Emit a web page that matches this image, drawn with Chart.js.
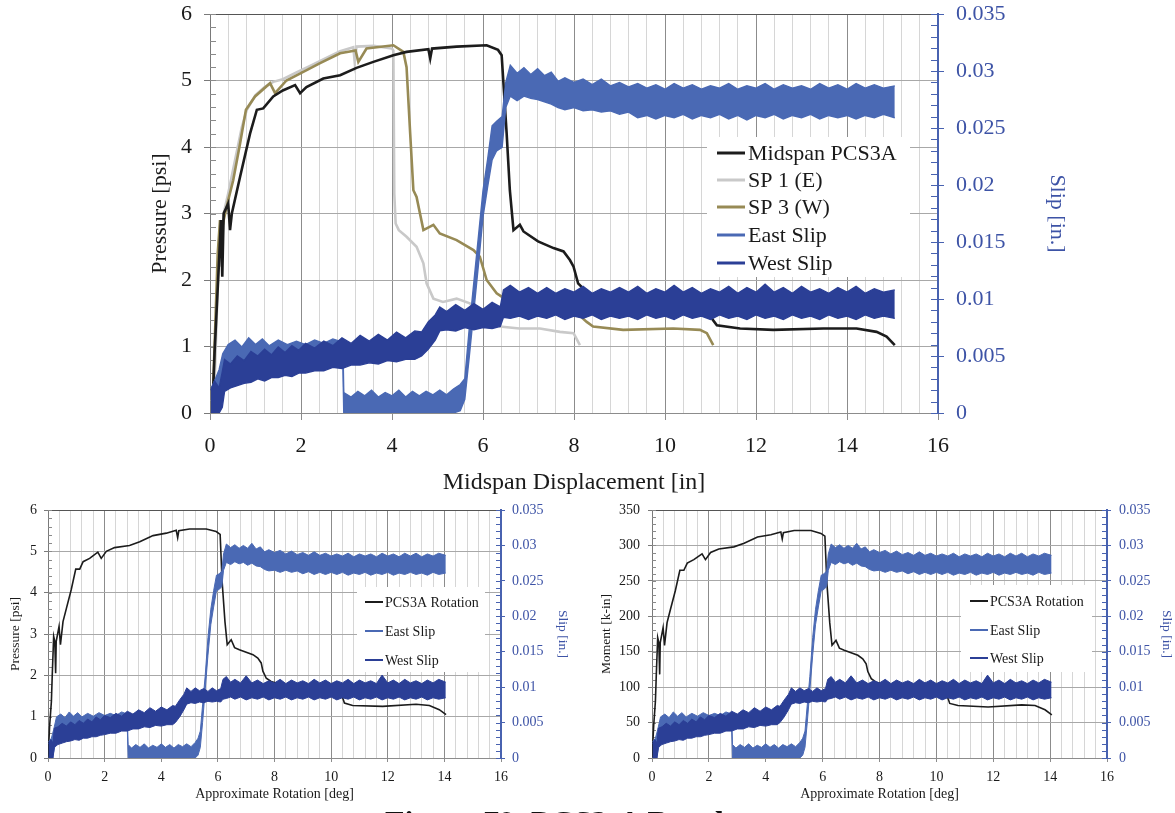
<!DOCTYPE html>
<html>
<head>
<meta charset="utf-8">
<script src="https://cdn.jsdelivr.net/npm/chart.js@4.4.1/dist/chart.umd.min.js"></script>
<style>
  html, body { margin: 0; padding: 0; background: #fff; overflow: hidden; }
  body { width: 1175px; height: 813px; position: relative; }
  canvas { position: absolute; display: block; }
  #caption { position: absolute; left: 385px; top: 806px; font: bold 32px/32px "Liberation Serif", "Times New Roman", serif; color: #111; white-space: nowrap; }
</style>
</head>
<body>
<canvas id="main" width="1175" height="500" style="left:0;top:0"></canvas>
<canvas id="rotP" width="590" height="318" style="left:0;top:495px"></canvas>
<canvas id="rotM" width="585" height="318" style="left:590px;top:495px"></canvas>
<div id="caption">Figure 79. PCS3-A Results</div>
<script>
// ---- data ----
// pressure [psi] vs midspan displacement [in]
const midspanPCS3A = [[0.05,0],[0.1,0.9],[0.15,1.6],[0.2,2.3],[0.24,2.9],[0.27,2.05],[0.3,3.0],[0.4,3.15],[0.44,2.75],[0.48,3.0],[0.66,3.55],[0.88,4.2],[1.03,4.56],[1.17,4.58],[1.39,4.76],[1.6,4.85],[1.87,4.93],[1.98,4.81],[2.12,4.9],[2.49,5.03],[2.86,5.08],[3.22,5.19],[3.59,5.28],[4.03,5.38],[4.32,5.43],[4.8,5.47],[4.84,5.33],[4.88,5.48],[5.42,5.51],[6.08,5.53],[6.33,5.46],[6.41,5.38],[6.52,4.2],[6.59,3.35],[6.67,2.75],[6.81,2.83],[6.89,2.73],[7.21,2.58],[7.55,2.48],[7.77,2.43],[7.91,2.3],[7.99,2.2],[8.09,1.95],[8.28,1.82],[8.68,1.67],[9.5,1.62],[10.3,1.55],[11.0,1.48],[11.05,1.4],[11.14,1.32],[11.65,1.27],[12.38,1.25],[13.48,1.27],[14.21,1.27],[14.65,1.22],[14.87,1.15],[15.05,1.02]];
const sp1East = [[0.08,0],[0.15,1.5],[0.2,2.6],[0.25,2.2],[0.3,3.0],[0.4,3.3],[0.55,3.8],[0.7,4.3],[0.81,4.56],[1.0,4.78],[1.2,4.9],[1.39,4.98],[1.6,5.02],[1.9,5.12],[2.2,5.22],[2.5,5.32],[2.86,5.44],[3.15,5.5],[3.18,5.28],[3.22,5.51],[3.6,5.52],[4.0,5.48],[4.03,5.45],[4.05,3.3],[4.08,2.85],[4.15,2.75],[4.32,2.65],[4.54,2.5],[4.69,2.25],[4.76,1.95],[4.91,1.72],[5.12,1.67],[5.42,1.72],[5.71,1.65],[6.0,1.45],[6.37,1.3],[6.8,1.27],[7.25,1.27],[7.69,1.22],[7.99,1.2],[8.13,1.02]];
const sp3West = [[0.05,0],[0.12,1.4],[0.17,2.4],[0.22,2.9],[0.25,2.7],[0.3,2.9],[0.4,3.2],[0.51,3.5],[0.66,4.05],[0.79,4.56],[0.99,4.76],[1.32,4.96],[1.43,4.81],[1.68,5.0],[2.05,5.13],[2.42,5.26],[2.86,5.41],[3.2,5.45],[3.26,5.28],[3.44,5.48],[4.03,5.53],[4.25,5.43],[4.32,5.2],[4.4,4.2],[4.47,3.35],[4.54,3.25],[4.69,2.75],[4.91,2.83],[5.05,2.7],[5.42,2.6],[5.79,2.45],[5.93,2.35],[6.08,2.0],[6.3,1.8],[6.52,1.7],[7.0,1.6],[7.6,1.55],[8.1,1.48],[8.28,1.37],[8.42,1.3],[9.08,1.25],[10.18,1.27],[10.77,1.25],[10.92,1.2],[11.06,1.02]];

// slip [in.] noise bands vs displacement: [x, low edge, high edge]
const eastSlipDisp = [[0.03,0,0.0022],[0.12,0,0.003],[0.2,0.0008,0.0038],[0.28,0.0025,0.0052],[0.4,0.0033,0.006],[0.55,0.0036,0.0064],[0.7,0.0035,0.0058],[0.85,0.0038,0.0066],[1.0,0.0037,0.006],[1.15,0.004,0.0065],[1.3,0.0038,0.0059],[1.5,0.004,0.0064],[1.7,0.0039,0.006],[1.9,0.0041,0.0063],[2.1,0.0042,0.006],[2.3,0.0041,0.0064],[2.5,0.0043,0.0061],[2.7,0.0043,0.0065],[2.92,0.0044,0.0062],
  [2.94,0,0.0018],[3.1,0,0.0014],[3.25,0,0.0019],[3.4,0,0.0015],[3.55,0,0.002],[3.7,0,0.0014],[3.85,0,0.0018],[4.0,0,0.0015],[4.15,0,0.002],[4.3,0,0.0014],[4.45,0,0.0019],[4.6,0,0.0015],[4.75,0,0.0019],[4.9,0,0.0016],[5.05,0,0.002],[5.2,0,0.0016],[5.35,0,0.0021],[5.5,0.0002,0.0025],[5.6,0.0012,0.003],[5.7,0.005,0.0075],[5.8,0.009,0.0115],[5.9,0.013,0.0155],[6.0,0.0172,0.0195],[6.1,0.0198,0.0222],[6.2,0.0222,0.0252],[6.3,0.023,0.0256],[6.42,0.0233,0.026],[6.5,0.0268,0.029],[6.6,0.0278,0.0305],[6.75,0.0274,0.0298],[6.9,0.0278,0.0303],[7.05,0.0276,0.0297],[7.2,0.0275,0.0302],[7.35,0.0273,0.0296],[7.5,0.0271,0.0299],[7.65,0.0268,0.0291],[7.8,0.0266,0.0294],
  [8.0,0.0268,0.029],[8.2,0.0265,0.0293],[8.4,0.0266,0.0288],[8.6,0.0264,0.0293],[8.8,0.0265,0.0287],[9.0,0.0262,0.029],[9.2,0.0264,0.0286],[9.4,0.0259,0.0289],[9.6,0.0261,0.0285],[9.8,0.0258,0.0288],[10.0,0.0261,0.0284],[10.2,0.0259,0.0289],[10.4,0.0262,0.0285],[10.6,0.0258,0.0288],[10.8,0.0261,0.0284],[11.0,0.0259,0.0287],[11.2,0.0262,0.0285],[11.4,0.0258,0.0289],[11.6,0.0261,0.0284],[11.8,0.0257,0.0287],[12.0,0.0261,0.0285],[12.2,0.0259,0.0289],[12.4,0.0262,0.0284],[12.6,0.0258,0.0288],[12.8,0.0261,0.0285],[13.0,0.0259,0.0287],[13.2,0.0262,0.0284],[13.4,0.0258,0.0289],[13.6,0.0261,0.0285],[13.8,0.0259,0.0288],[14.0,0.0261,0.0284],[14.2,0.0258,0.0289],[14.4,0.0261,0.0285],[14.6,0.0259,0.0288],[14.8,0.0262,0.0285],[15.05,0.0259,0.0287]];
const westSlipDisp = [[0.02,0,0.002],[0.1,0,0.0028],[0.2,0,0.0022],[0.27,0.0005,0.0036],[0.32,0.0019,0.0047],[0.45,0.0022,0.0043],[0.6,0.0024,0.005],[0.75,0.0026,0.0046],[0.9,0.0027,0.0054],[1.05,0.003,0.005],[1.2,0.0028,0.0056],[1.35,0.0031,0.0051],[1.5,0.0031,0.0058],[1.65,0.0033,0.0053],[1.8,0.0032,0.0059],[1.95,0.0035,0.0055],[2.1,0.0035,0.0061],[2.3,0.0037,0.0057],[2.5,0.0037,0.0063],[2.7,0.004,0.0059],[2.9,0.0039,0.0066],[3.1,0.0042,0.0061],[3.3,0.0042,0.0068],[3.5,0.0044,0.0063],[3.7,0.0043,0.0069],[3.9,0.0046,0.0064],[4.1,0.0045,0.0071],[4.3,0.0047,0.0066],[4.5,0.0047,0.0072],[4.65,0.005,0.0071],[4.8,0.0056,0.008],[4.95,0.0064,0.0086],[5.05,0.0072,0.0093],[5.2,0.0073,0.0089],[5.4,0.0072,0.0095],[5.6,0.0075,0.009],[5.8,0.0073,0.0096],[6.0,0.0075,0.0091],[6.2,0.0074,0.0097],[6.38,0.0076,0.0093],
  [6.45,0.0084,0.0108],[6.6,0.0083,0.0112],[6.8,0.0085,0.0106],[7.0,0.0082,0.011],[7.2,0.0085,0.0105],[7.4,0.0083,0.011],[7.6,0.0086,0.0105],[7.8,0.0082,0.0109],[8.0,0.0085,0.0106],[8.2,0.0083,0.0111],[8.4,0.0086,0.0105],[8.6,0.0082,0.0109],[8.8,0.0085,0.0106],[9.0,0.0083,0.011],[9.2,0.0085,0.0106],[9.4,0.0082,0.0111],[9.6,0.0086,0.0105],[9.8,0.0083,0.0109],[10.0,0.0085,0.0106],[10.2,0.0082,0.0112],[10.4,0.0086,0.0106],[10.6,0.0083,0.011],[10.8,0.0085,0.0105],[11.0,0.0082,0.0109],[11.2,0.0086,0.0106],[11.4,0.0083,0.0111],[11.6,0.0085,0.0105],[11.8,0.0082,0.011],[12.0,0.0086,0.0106],[12.2,0.0083,0.0113],[12.4,0.0085,0.0106],[12.6,0.0082,0.011],[12.8,0.0086,0.0105],[13.0,0.0083,0.0111],[13.2,0.0085,0.0106],[13.4,0.0082,0.0109],[13.6,0.0086,0.0105],[13.8,0.0083,0.011],[14.0,0.0085,0.0106],[14.2,0.0082,0.0111],[14.4,0.0086,0.0105],[14.6,0.0083,0.0109],[14.8,0.0085,0.0106],[15.05,0.0083,0.0108]];

// vs approximate rotation [deg]
const pcs3aRotPressure = [[0,0],[0.06,0.8],[0.12,1.37],[0.15,2.0],[0.2,2.94],[0.24,2.82],[0.27,2.05],[0.29,2.82],[0.39,3.18],[0.44,2.74],[0.53,3.3],[0.65,3.62],[0.82,4.07],[0.98,4.57],[1.12,4.57],[1.24,4.75],[1.47,4.83],[1.76,4.98],[1.88,4.83],[2.06,5.0],[2.35,5.09],[2.88,5.14],[3.24,5.23],[3.71,5.38],[4.18,5.44],[4.53,5.51],[4.58,5.33],[4.62,5.5],[5.0,5.54],[5.59,5.54],[5.94,5.48],[6.08,5.41],[6.15,4.27],[6.25,3.3],[6.33,2.74],[6.47,2.86],[6.59,2.67],[6.76,2.62],[7.24,2.5],[7.41,2.42],[7.53,2.3],[7.59,2.1],[7.71,1.93],[7.88,1.85],[8.5,1.72],[9.5,1.62],[10.35,1.55],[10.41,1.45],[10.47,1.33],[10.76,1.27],[11.82,1.25],[13.0,1.3],[13.47,1.27],[13.82,1.17],[14.06,1.05]];
const pcs3aRotMoment = [[0,0],[0.06,46],[0.12,80],[0.15,116],[0.2,170],[0.24,163],[0.27,118],[0.29,163],[0.39,184],[0.44,159],[0.53,191],[0.65,210],[0.82,236],[0.98,265],[1.12,265],[1.24,275],[1.47,280],[1.76,288],[1.88,280],[2.06,290],[2.35,295],[2.88,298],[3.24,303],[3.71,312],[4.18,315],[4.53,319],[4.58,309],[4.62,318],[5.0,321],[5.59,321],[5.94,317],[6.08,313],[6.15,247],[6.25,191],[6.33,159],[6.47,166],[6.59,155],[6.76,152],[7.24,145],[7.41,140],[7.53,133],[7.59,122],[7.71,112],[7.88,107],[8.5,100],[9.5,94],[10.35,90],[10.41,84],[10.47,77],[10.76,74],[11.82,72],[13.0,75],[13.47,74],[13.82,68],[14.06,61]];
const eastSlipRot = [[0.02,0,0.0023],[0.12,0,0.0028],[0.2,0.0008,0.004],[0.3,0.0028,0.0058],[0.45,0.0033,0.0062],[0.6,0.0032,0.0057],[0.75,0.0036,0.0065],[0.9,0.0035,0.0059],[1.05,0.0038,0.0064],[1.2,0.0037,0.0058],[1.4,0.0039,0.0063],[1.6,0.0038,0.0059],[1.8,0.004,0.0064],[2.0,0.0041,0.006],[2.2,0.004,0.0063],[2.4,0.0042,0.006],[2.6,0.0042,0.0065],[2.8,0.0044,0.0062],
  [2.83,0,0.0019],[2.95,0,0.0014],[3.1,0,0.0019],[3.25,0,0.0015],[3.4,0,0.002],[3.55,0,0.0014],[3.7,0,0.0018],[3.85,0,0.0015],[4.0,0,0.002],[4.15,0,0.0015],[4.3,0,0.0019],[4.45,0,0.0014],[4.6,0,0.0019],[4.75,0,0.0016],[4.9,0,0.002],[5.05,0,0.0016],[5.2,0,0.0022],[5.3,0.0004,0.0028],[5.38,0.0015,0.0038],[5.46,0.005,0.0075],[5.55,0.0095,0.0115],[5.65,0.0145,0.017],[5.75,0.0188,0.021],[5.85,0.0213,0.0236],[5.95,0.0236,0.0258],[6.05,0.0238,0.026],[6.14,0.0242,0.0264],[6.2,0.0265,0.0288],[6.3,0.0276,0.0302],[6.45,0.0273,0.0297],[6.6,0.0277,0.0301],[6.75,0.0274,0.0296],[6.9,0.0276,0.03],[7.05,0.0272,0.0296],[7.2,0.0275,0.0303],[7.35,0.0271,0.0295],[7.5,0.027,0.0298],[7.65,0.0266,0.0291],[7.8,0.0264,0.0294],
  [8.0,0.0265,0.029],[8.2,0.0262,0.0293],[8.4,0.0265,0.0288],[8.6,0.0262,0.0292],[8.8,0.0264,0.0287],[9.0,0.026,0.029],[9.2,0.0263,0.0286],[9.4,0.0259,0.0291],[9.6,0.0262,0.0286],[9.8,0.0259,0.0289],[10.0,0.0262,0.0285],[10.2,0.0259,0.0288],[10.4,0.0262,0.0285],[10.6,0.0258,0.0289],[10.8,0.0261,0.0284],[11.0,0.0259,0.0288],[11.2,0.0262,0.0285],[11.4,0.0258,0.0288],[11.6,0.0261,0.0284],[11.8,0.0259,0.0289],[12.0,0.0262,0.0285],[12.2,0.0258,0.0288],[12.4,0.0261,0.0284],[12.6,0.0259,0.0289],[12.8,0.0262,0.0285],[13.0,0.0259,0.0289],[13.2,0.0261,0.0284],[13.4,0.0258,0.0288],[13.6,0.0262,0.0285],[13.8,0.0259,0.0289],[14.05,0.0261,0.0286]];
const westSlipRot = [[0.02,0,0.002],[0.1,0,0.0026],[0.18,0,0.0021],[0.22,0.0015,0.0042],[0.35,0.0019,0.0044],[0.5,0.0021,0.0049],[0.65,0.0023,0.0045],[0.8,0.0024,0.0051],[0.95,0.0026,0.0047],[1.1,0.0025,0.0053],[1.25,0.0028,0.0049],[1.4,0.0028,0.0055],[1.55,0.003,0.0051],[1.7,0.003,0.0058],[1.85,0.0032,0.0054],[2.0,0.0033,0.006],[2.2,0.0035,0.0057],[2.4,0.0035,0.0063],[2.6,0.0038,0.0059],[2.8,0.0038,0.0066],[3.0,0.0041,0.0062],[3.2,0.0041,0.0068],[3.4,0.0044,0.0064],[3.6,0.0043,0.0071],[3.8,0.0046,0.0066],[4.0,0.0045,0.0072],[4.2,0.0047,0.0068],[4.4,0.0047,0.0074],[4.5,0.005,0.0073],[4.65,0.0058,0.0082],[4.8,0.0068,0.009],[4.9,0.0076,0.0099],[5.05,0.0078,0.0094],[5.2,0.0077,0.0099],[5.35,0.0079,0.0095],[5.5,0.0078,0.0098],[5.65,0.008,0.0094],[5.8,0.0079,0.0099],[5.95,0.008,0.0095],[6.1,0.0079,0.0098],
  [6.18,0.0083,0.0111],[6.3,0.0084,0.0115],[6.45,0.0086,0.0107],[6.6,0.0083,0.0111],[6.8,0.0086,0.0106],[7.0,0.0082,0.0116],[7.2,0.0085,0.0106],[7.4,0.0083,0.011],[7.6,0.0086,0.0105],[7.8,0.0082,0.0109],[8.0,0.0085,0.0106],[8.2,0.0083,0.0111],[8.4,0.0086,0.0105],[8.6,0.0082,0.011],[8.8,0.0085,0.0106],[9.0,0.0083,0.0109],[9.2,0.0086,0.0105],[9.4,0.0082,0.0111],[9.6,0.0085,0.0106],[9.8,0.0083,0.011],[10.0,0.0086,0.0105],[10.2,0.0082,0.0109],[10.4,0.0085,0.0106],[10.6,0.0083,0.0111],[10.8,0.0086,0.0105],[11.0,0.0082,0.011],[11.2,0.0085,0.0106],[11.4,0.0083,0.0109],[11.6,0.0086,0.0105],[11.8,0.0082,0.0117],[12.0,0.0085,0.0106],[12.2,0.0083,0.011],[12.4,0.0086,0.0105],[12.6,0.0082,0.0111],[12.8,0.0085,0.0106],[13.0,0.0083,0.0109],[13.2,0.0086,0.0105],[13.4,0.0082,0.011],[13.6,0.0085,0.0106],[13.8,0.0083,0.0111],[14.05,0.0085,0.0107]];

const mainSeriesNames = ['Midspan PCS3A', 'SP 1 (E)', 'SP 3 (W)', 'East Slip', 'West Slip'];
const rotSeriesNames = ['PCS3A Rotation', 'East Slip', 'West Slip'];

// ---- styling ----
const serif = '"Liberation Serif", "Times New Roman", serif';
const cBlack = '#1c1c1c', cGray = '#c9c9c9', cOlive = '#978a55';
const cEast = '#4a69b4', cWest = '#2b3f96';
const blueAxis = '#4862b0', blueText = '#3d53a6';
const clear = 'rgba(0,0,0,0)';

function isMult(v, step) {
  const r = v / step;
  return Math.abs(r - Math.round(r)) < 1e-6;
}

function lineSet(pairs, color, width, axis) {
  return {
    data: pairs.map(p => ({x: p[0], y: p[1]})),
    borderColor: color, borderWidth: width, pointRadius: 0, tension: 0,
    fill: false, yAxisID: axis
  };
}

// noisy slip record drawn as a filled band between its low and high edges
function bandSets(rows, color, width) {
  return [
    { data: rows.map(r => ({x: r[0], y: r[2]})), borderColor: color, backgroundColor: color,
      borderWidth: width, pointRadius: 0, fill: false, yAxisID: 'y1' },
    { data: rows.map(r => ({x: r[0], y: r[1]})), borderColor: color, backgroundColor: color,
      borderWidth: width, pointRadius: 0, fill: '-1', yAxisID: 'y1' }
  ];
}

// fixed axis box sizes, and no extra room for half tick labels
function fixBox(key, size) {
  return s => {
    s[key] = size;
    s.paddingTop = 0; s.paddingBottom = 0; s.paddingLeft = 0; s.paddingRight = 0;
  };
}

function scales(p) {
  const font = {family: serif, size: p.fs};
  return {
    x: {
      type: 'linear', min: 0, max: 16,
      afterFit: fixBox('height', p.xH),
      border: {color: '#8c8c8c'},
      grid: {
        color: c => isMult(c.tick.value, 2) ? '#8c8c8c' : '#d6d6d6',
        tickColor: c => isMult(c.tick.value, 2) ? '#8c8c8c' : clear,
        tickLength: p.xTick
      },
      ticks: {stepSize: 0.4, autoSkip: false, maxRotation: 0, padding: p.xPad, color: '#1a1a1a', font: font,
        callback: v => isMult(v, 2) ? String(Math.round(v)) : ''},
      title: {display: true, text: p.xTitle, color: '#1a1a1a', font: {family: serif, size: p.xTitleFs},
        padding: {top: 0, bottom: p.xTitlePad}}
    },
    y: {
      position: 'left', min: 0, max: p.yMax,
      afterFit: fixBox('width', p.yW),
      border: {color: '#7a7a7a'},
      grid: {
        color: c => c.tick.value >= p.yMax - 1e-9 ? '#555555' : (isMult(c.tick.value, p.yMajor) ? '#a8a8a8' : clear),
        tickColor: c => isMult(c.tick.value, p.yMajor) ? '#7a7a7a' : clear,
        tickLength: p.yTick
      },
      ticks: {stepSize: p.yMinor, autoSkip: false, padding: p.yPad, color: '#1a1a1a', font: font,
        callback: v => isMult(v, p.yMajor) ? String(Math.round(v)) : ''},
      title: {display: true, text: p.yTitle, color: '#1a1a1a', font: {family: serif, size: p.titleFs},
        padding: {top: p.yTitlePad, bottom: 0}}
    },
    y1: {
      position: 'right', min: 0, max: 0.035,
      afterFit: fixBox('width', p.y1W),
      border: {color: blueAxis, width: 2},
      grid: {drawOnChartArea: false, tickColor: c => isMult(c.tick.value, 0.005) ? blueAxis : clear, tickLength: p.yTick},
      ticks: {stepSize: 0.001, autoSkip: false, padding: p.y1Pad, color: blueText, font: font,
        callback: v => isMult(v, 0.005) ? String(+v.toFixed(3)) : ''},
      title: {display: true, text: 'Slip [in.]', color: blueText, font: {family: serif, size: p.titleFs},
        padding: {top: p.y1TitlePad, bottom: 0}}
    }
  };
}

// small inner tick marks on both value axes, and the boxed legend inside the plot
const decor = {
  id: 'decor',
  beforeDatasetsDraw(chart, args, o) {
    const ctx = chart.ctx, a = chart.chartArea;
    const ys = chart.scales.y, yr = chart.scales.y1;
    ctx.save();
    ctx.lineWidth = 1;
    ctx.strokeStyle = '#8a8a8a';
    const n = Math.round(ys.max / o.leftStep);
    for (let i = 0; i <= n; i++) {
      const y = Math.round(ys.getPixelForValue(i * o.leftStep)) + 0.5;
      ctx.beginPath(); ctx.moveTo(a.left, y); ctx.lineTo(a.left + o.mark, y); ctx.stroke();
    }
    ctx.strokeStyle = blueAxis;
    for (let i = 0; i <= 35; i++) {
      const y = Math.round(yr.getPixelForValue(i * 0.001)) + 0.5;
      ctx.beginPath(); ctx.moveTo(a.right - o.mark - 1, y); ctx.lineTo(a.right, y); ctx.stroke();
    }
    ctx.restore();
  },
  afterDatasetsDraw(chart, args, o) {
    const ctx = chart.ctx, L = o.legend;
    ctx.save();
    ctx.fillStyle = '#ffffff';
    ctx.fillRect(L.box[0], L.box[1], L.box[2], L.box[3]);
    ctx.font = L.fs + 'px ' + serif;
    ctx.textBaseline = 'middle';
    ctx.textAlign = 'left';
    L.names.forEach((name, i) => {
      const y = L.rows[i];
      ctx.strokeStyle = L.colors[i];
      ctx.lineWidth = L.lw;
      ctx.beginPath(); ctx.moveTo(L.line[0], y); ctx.lineTo(L.line[1], y); ctx.stroke();
      ctx.fillStyle = '#1a1a1a';
      ctx.fillText(name, L.textX, y + 1);
    });
    ctx.restore();
  }
};

function make(id, datasets, sc, deco, padTop) {
  return new Chart(document.getElementById(id), {
    type: 'line',
    data: {datasets: datasets},
    options: {
      responsive: false, animation: false, devicePixelRatio: 1,
      layout: {padding: {top: padTop, left: 0, right: 0, bottom: 0}},
      plugins: {legend: {display: false}, tooltip: {enabled: false}, decor: deco},
      scales: sc
    },
    plugins: [decor]
  });
}

// main chart: pressure and slip vs midspan displacement
make('main', [
  ...bandSets(westSlipDisp, cWest, 1.4),
  ...bandSets(eastSlipDisp, cEast, 1.4),
  lineSet(midspanPCS3A, cBlack, 2.6, 'y'),
  lineSet(sp3West, cOlive, 2.6, 'y'),
  lineSet(sp1East, cGray, 2.6, 'y')
], scales({
  fs: 22, titleFs: 22, xTitleFs: 24, xTitle: 'Midspan Displacement [in]', yTitle: 'Pressure [psi]',
  yMax: 6, yMajor: 1, yMinor: 0.2,
  yW: 210, y1W: 237, xH: 87, xTick: 7, xPad: 13, yTick: 6, yPad: 12, y1Pad: 12,
  yTitlePad: 147, y1TitlePad: 105, xTitlePad: 3
}), {
  leftStep: 0.2, mark: 6,
  legend: {names: mainSeriesNames, colors: [cBlack, cGray, cOlive, cEast, cWest],
    box: [707, 137, 203, 140], rows: [153, 180, 207, 235, 263], line: [717, 745], textX: 748, fs: 22, lw: 3}
}, 14);

// lower left: pressure vs approximate rotation
make('rotP', [
  ...bandSets(westSlipRot, cWest, 1),
  ...bandSets(eastSlipRot, cEast, 1),
  lineSet(pcs3aRotPressure, cBlack, 1.6, 'y')
], scales({
  fs: 14, titleFs: 13.5, xTitleFs: 14, xTitle: 'Approximate Rotation [deg]', yTitle: 'Pressure [psi]',
  yMax: 6, yMajor: 1, yMinor: 0.2,
  yW: 48, y1W: 89, xH: 55, xTick: 4, xPad: 7, yTick: 4, yPad: 7, y1Pad: 7,
  yTitlePad: 7, y1TitlePad: 19, xTitlePad: 10
}), {
  leftStep: 0.2, mark: 4,
  legend: {names: rotSeriesNames, colors: [cBlack, cEast, cWest],
    box: [357, 92, 128, 85], rows: [107, 136, 165], line: [365, 383], textX: 385, fs: 14, lw: 2}
}, 15);

// lower right: moment vs approximate rotation
make('rotM', [
  ...bandSets(westSlipRot, cWest, 1),
  ...bandSets(eastSlipRot, cEast, 1),
  lineSet(pcs3aRotMoment, cBlack, 1.6, 'y')
], scales({
  fs: 14, titleFs: 13.5, xTitleFs: 14, xTitle: 'Approximate Rotation [deg]', yTitle: 'Moment [k-in]',
  yMax: 350, yMajor: 50, yMinor: 10,
  yW: 62, y1W: 68, xH: 55, xTick: 4, xPad: 7, yTick: 4, yPad: 8, y1Pad: 8,
  yTitlePad: 8, y1TitlePad: 0, xTitlePad: 10
}), {
  leftStep: 10, mark: 4,
  legend: {names: rotSeriesNames, colors: [cBlack, cEast, cWest],
    box: [371, 90, 131, 87], rows: [106, 135, 163], line: [380, 398], textX: 400, fs: 14, lw: 2}
}, 15);
</script>
</body>
</html>
